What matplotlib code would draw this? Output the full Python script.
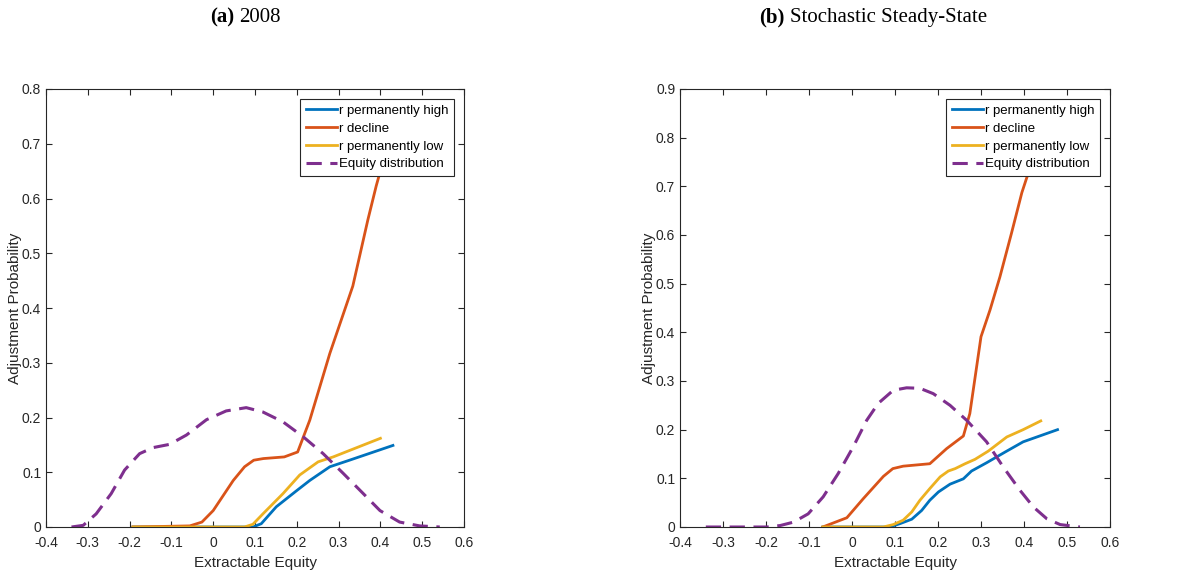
import numpy as np
import matplotlib.pyplot as plt

plt.rcParams["font.family"] = ["Liberation Sans", "DejaVu Sans"]

C_HIGH = "#0072BD"
C_DECL = "#D95319"
C_LOW = "#EDB120"
C_DIST = "#7E2F8E"

# ---- panel (a) 2008 ----
a_high_x = [-0.192, 0.095, 0.115, 0.151, 0.199, 0.231, 0.279, 0.326, 0.430]
a_high_y = [0.0, 0.0, 0.006, 0.037, 0.066, 0.085, 0.110, 0.122, 0.149]
a_decl_x = [-0.192, -0.056, -0.027, 0.0, 0.048, 0.075, 0.097, 0.12, 0.17, 0.202,
            0.231, 0.279, 0.334, 0.370, 0.390, 0.398, 0.43]
a_decl_y = [0.0, 0.002, 0.009, 0.03, 0.085, 0.11, 0.122, 0.125, 0.128, 0.137,
            0.195, 0.317, 0.440, 0.561, 0.623, 0.645, 0.74]
a_low_x = [-0.192, 0.075, 0.095, 0.119, 0.167, 0.207, 0.251, 0.287, 0.400]
a_low_y = [0.0, 0.0, 0.005, 0.024, 0.061, 0.095, 0.119, 0.128, 0.162]
a_dist_x = [-0.339, -0.311, -0.280, -0.244, -0.212, -0.176, -0.144, -0.104, -0.064,
            -0.016, 0.031, 0.079, 0.119, 0.167, 0.215, 0.263, 0.311, 0.359, 0.399,
            0.446, 0.494, 0.542]
a_dist_y = [0.0, 0.003, 0.024, 0.061, 0.104, 0.134, 0.145, 0.151, 0.168,
            0.196, 0.212, 0.218, 0.210, 0.192, 0.165, 0.134, 0.098, 0.061, 0.030,
            0.009, 0.002, 0.0]

# ---- panel (b) stochastic steady-state ----
b_high_x = [-0.068, 0.088, 0.112, 0.139, 0.162, 0.181, 0.201, 0.228, 0.259, 0.278,
            0.313, 0.356, 0.398, 0.478]
b_high_y = [0.0, 0.0, 0.007, 0.016, 0.034, 0.055, 0.072, 0.088, 0.099, 0.115,
            0.132, 0.154, 0.175, 0.200]
b_decl_x = [-0.068, -0.012, 0.026, 0.073, 0.095, 0.119, 0.181, 0.220, 0.259, 0.274,
            0.300, 0.321, 0.344, 0.371, 0.395, 0.405, 0.43]
b_decl_y = [0.0, 0.019, 0.058, 0.104, 0.120, 0.125, 0.130, 0.161, 0.187, 0.233,
            0.391, 0.446, 0.514, 0.604, 0.687, 0.714, 0.78]
b_low_x = [-0.068, 0.073, 0.096, 0.119, 0.139, 0.158, 0.181, 0.205, 0.224, 0.240,
           0.263, 0.286, 0.317, 0.360, 0.398, 0.439]
b_low_y = [0.0, 0.0, 0.005, 0.014, 0.031, 0.055, 0.079, 0.103, 0.115, 0.120,
           0.130, 0.139, 0.156, 0.185, 0.200, 0.218]
b_dist_x = [-0.340, -0.198, -0.167, -0.136, -0.102, -0.067, -0.032, 0.003, 0.034,
            0.061, 0.096, 0.127, 0.158, 0.189, 0.228, 0.267, 0.313, 0.352, 0.391,
            0.422, 0.453, 0.484, 0.530]
b_dist_y = [0.0, 0.0, 0.003, 0.010, 0.027, 0.062, 0.110, 0.165, 0.219,
            0.254, 0.281, 0.286, 0.285, 0.274, 0.250, 0.219, 0.175, 0.123, 0.075,
            0.041, 0.017, 0.005, 0.0]

labels = ["r permanently high", "r decline", "r permanently low", "Equity distribution"]


def fmt(v, p):
    return "0" if abs(v) < 1e-9 else f"{v:g}"


def draw_panel(ax, high, decl, low, dist, ymax):
    ax.plot(*high, color=C_HIGH, lw=2.0, label=labels[0])
    ax.plot(*decl, color=C_DECL, lw=2.0, label=labels[1])
    ax.plot(*low, color=C_LOW, lw=2.0, label=labels[2])
    ax.plot(*dist, color=C_DIST, lw=2.2, dashes=(5.0, 2.8), label=labels[3])
    ax.set_xlim(-0.4, 0.6)
    ax.set_ylim(0, ymax)
    ax.set_xticks(np.round(np.arange(-0.4, 0.61, 0.1), 1))
    ax.set_yticks(np.round(np.arange(0, ymax + 0.01, 0.1), 1))
    ax.xaxis.set_major_formatter(plt.FuncFormatter(fmt))
    ax.yaxis.set_major_formatter(plt.FuncFormatter(fmt))
    ax.tick_params(direction="in", top=True, right=True, labelsize=10,
                   colors="#262626", length=4, width=0.8)
    ax.tick_params(axis="x", pad=6.5)
    for s in ax.spines.values():
        s.set_color("#262626")
        s.set_linewidth(0.8)
    ax.set_xlabel("Extractable Equity", fontsize=11, color="#262626", labelpad=4)
    ax.set_ylabel("Adjustment Probability", fontsize=11, color="#262626", labelpad=-0.5)
    leg = ax.legend(loc="upper right", fontsize=9.5, handlelength=2.4, handletextpad=0.1,
                    borderpad=0.45, labelspacing=0.42, fancybox=False, framealpha=1,
                    edgecolor="#262626", borderaxespad=0.75)
    leg.get_frame().set_linewidth(0.8)


fig = plt.figure(figsize=(11.83, 5.73), dpi=100)
W, H = 1183, 573
ax1 = fig.add_axes([46 / W, 1 - 527 / H, (464 - 46) / W, (527 - 89) / H])
ax2 = fig.add_axes([680 / W, 1 - 527 / H, (1110 - 680) / W, (527 - 89) / H])

draw_panel(ax1, (a_high_x, a_high_y), (a_decl_x, a_decl_y), (a_low_x, a_low_y),
           (a_dist_x, a_dist_y), 0.8)
draw_panel(ax2, (b_high_x, b_high_y), (b_decl_x, b_decl_y), (b_low_x, b_low_y),
           (b_dist_x, b_dist_y), 0.9)

serif = ["Liberation Serif", "DejaVu Serif"]
ty = 1 - 22 / H
fig.text(234 / W, ty, "(a)", ha="right", va="baseline", fontsize=15, fontweight="bold", family=serif)
fig.text(239 / W, ty, "2008", ha="left", va="baseline", fontsize=15, family=serif)
fig.text(785 / W, ty, "(b)", ha="right", va="baseline", fontsize=15, fontweight="bold", family=serif)
fig.text(790 / W, ty, "Stochastic Steady-State", ha="left", va="baseline", fontsize=15, family=serif)

fig.savefig("out.png", dpi=100)
